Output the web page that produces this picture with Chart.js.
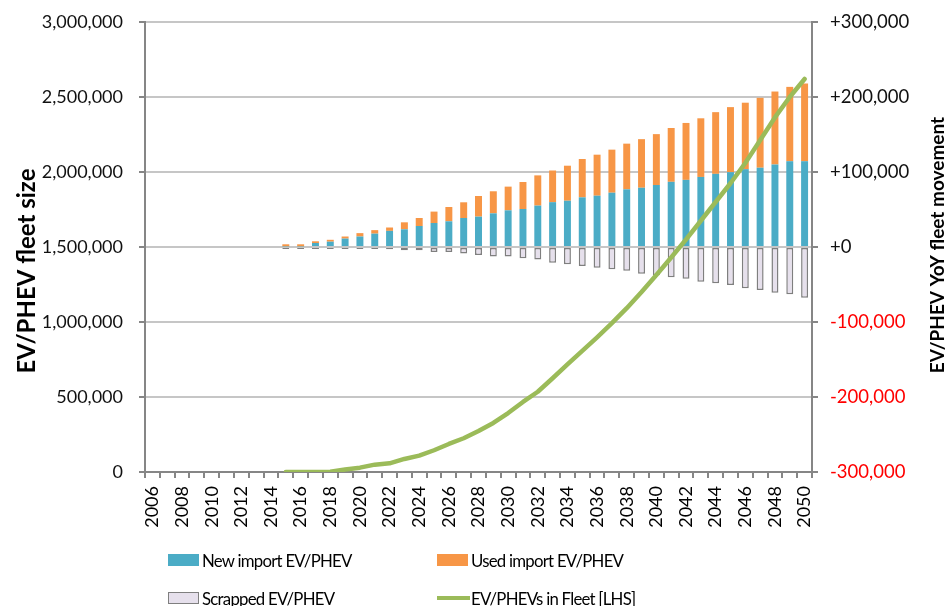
<!DOCTYPE html>
<html><head><meta charset="utf-8">
<script src="https://cdn.jsdelivr.net/npm/chart.js@4/dist/chart.umd.min.js"></script>
<style>
html,body{margin:0;padding:0;background:#fff;overflow:hidden}
#wrap{position:relative;width:946px;height:606px}
canvas{position:absolute;left:0;top:0}
.lg{position:absolute;font-family:Lato,sans-serif;font-size:16.8px;letter-spacing:-0.75px;color:#000;white-space:nowrap;line-height:20px}
.sw{position:absolute;box-sizing:border-box}
</style></head><body>
<div id="wrap"><canvas id="c" width="946" height="606"></canvas><div id="legend"></div></div>
<script>
const years = ['2006','2007','2008','2009','2010','2011','2012','2013','2014','2015','2016','2017','2018','2019','2020','2021','2022','2023','2024','2025','2026','2027','2028','2029','2030','2031','2032','2033','2034','2035','2036','2037','2038','2039','2040','2041','2042','2043','2044','2045','2046','2047','2048','2049','2050'];
const newImport = [null,null,null,null,null,null,null,null,null,800,800,5300,7100,11200,14000,17800,21500,23600,28000,32000,34300,38700,40500,44900,48900,50700,55200,59800,61700,66200,68400,72400,76900,79000,82700,86900,89500,93400,97500,99800,103800,105700,110000,114400,114400];
const usedImport = [null,null,null,null,null,null,null,null,null,2800,2800,2300,2500,2800,4500,4700,4500,9300,10700,15200,19000,20900,27500,29400,31600,36000,40300,42200,46700,51100,54700,57400,60900,64800,67800,71800,75900,78200,82300,86700,88600,93200,97300,99100,103600];
const scrapped = [null,null,null,null,null,null,null,null,null,-2500,-2500,-2500,-2500,-2500,-2500,-2500,-3000,-4400,-4400,-6500,-6500,-8700,-10800,-12500,-12500,-15100,-16800,-21000,-23100,-25300,-27600,-29800,-31600,-35600,-37800,-40400,-42200,-46200,-48400,-50700,-55100,-57300,-60900,-63100,-67600];
const fleet = [null,null,null,null,null,null,null,null,null,0,0,0,2000,16000,29000,49000,58000,87000,109000,145000,187000,225000,273000,327000,393000,467000,535000,625000,718000,808000,898000,992000,1092000,1200000,1313000,1430000,1550000,1675000,1800000,1925000,2060000,2212000,2364000,2500000,2620000];
const leftTicks = [0,500000,1000000,1500000,2000000,2500000,3000000];
const rightTicks = [-300000,-200000,-100000,0,100000,200000,300000];
const leftTitle = 'EV/PHEV fleet size';
const rightTitle = 'EV/PHEV YoY fleet movement';

const FONT = 'Lato';
const titlesPlugin = {
  id:'titles',
  afterDraw(chart){
    const c = chart.ctx;
    c.save();
    c.font = 'bold 24px ' + FONT;
    c.fillStyle = '#000';
    c.textAlign = 'center';
    c.textBaseline = 'middle';
    c.translate(27, 271); c.rotate(-Math.PI/2); c.fillText(leftTitle, 0, 0);
    c.restore();
    c.save();
    c.font = 'bold 19px ' + FONT;
    c.fillStyle = '#000';
    c.textAlign = 'center';
    c.textBaseline = 'middle';
    c.translate(938, 245); c.rotate(-Math.PI/2); c.fillText(rightTitle, 0, 0);
    c.restore();
  }
};

const axisGray = '#868686';
const noVPad = s => { s.paddingTop = 0; s.paddingBottom = 0; };
const chart = new Chart(document.getElementById('c'), {
  type:'bar',
  data:{labels:years, datasets:[
    {type:'line', label:'EV/PHEVs in Fleet [LHS]', data:fleet, yAxisID:'y', borderColor:'#9BBB59', backgroundColor:'#9BBB59', borderWidth:4.5, pointRadius:0, tension:0, order:0, borderCapStyle:'round', borderJoinStyle:'round'},
    {label:'New import EV/PHEV', data:newImport, yAxisID:'y2', backgroundColor:'#4BACC6', stack:'s', order:1, barPercentage:0.47, categoryPercentage:1},
    {label:'Used import EV/PHEV', data:usedImport, yAxisID:'y2', backgroundColor:'#F79646', stack:'s', order:1, barPercentage:0.47, categoryPercentage:1},
    {label:'Scrapped EV/PHEV', data:scrapped, yAxisID:'y2', backgroundColor:'#E6E0EC', borderColor:'#7F7F7F', borderWidth:1.5, borderSkipped:false, stack:'s', order:1, barPercentage:0.47, categoryPercentage:1}
  ]},
  options:{
    responsive:false, animation:false,
    layout:{padding:{top:22,left:0,right:0,bottom:0}},
    plugins:{legend:{display:false}, tooltip:{enabled:false}},
    scales:{
      x:{stacked:true, offset:true,
        grid:{offset:true, drawOnChartArea:false, drawTicks:true, tickLength:6, color:axisGray, lineWidth:2},
        border:{color:axisGray, width:2},
        ticks:{autoSkip:false, maxRotation:90, minRotation:90, padding:8, color:'#000', font:{family:FONT, size:18},
          callback:(v,i)=> i%2===0 ? years[i] : ''},
        afterFit:s=>{s.height=134;}},
      y:{position:'left', min:0, max:3000000,
        afterBuildTicks:s=>{s.ticks = leftTicks.map(v=>({value:v}));},
        grid:{color:'#c6c6c6', lineWidth:2, tickLength:6, tickColor:axisGray},
        border:{color:axisGray, width:2},
        ticks:{padding:16, color:'#111', font:{family:FONT, size:18}, callback:v=>Number(v).toLocaleString('en-US')},
        afterFit:s=>{s.width=145; noVPad(s);}},
      y2:{position:'right', stacked:true, min:-300000, max:300000,
        afterBuildTicks:s=>{s.ticks = rightTicks.map(v=>({value:v}));},
        grid:{drawOnChartArea:false, tickLength:6, color:axisGray, lineWidth:2},
        border:{color:axisGray, width:2},
        ticks:{padding:12, font:{family:FONT, size:18.5}, color:ctx=> (ctx.tick && ctx.tick.value<0) ? '#FF0000' : '#111',
          callback:v=> (v>=0?'+':'') + Number(v).toLocaleString('en-US')},
        afterFit:s=>{s.width=134; noVPad(s);}}
    }
  },
  plugins:[titlesPlugin]
});

// HTML legend built from the chart's datasets
const legendPos = [
  {ds:1, x:168, y:551, kind:'box'},
  {ds:2, x:437, y:551, kind:'box'},
  {ds:3, x:168, y:589, kind:'box'},
  {ds:0, x:437, y:589, kind:'line'}
];
const lg = document.getElementById('legend');
legendPos.forEach(p=>{
  const d = chart.data.datasets[p.ds];
  const sw = document.createElement('div');
  sw.className = 'sw';
  if (p.kind==='box'){
    sw.style.left = p.x+'px'; sw.style.top = (p.y+3)+'px'; sw.style.width='31px'; sw.style.height='12px';
    sw.style.background = d.backgroundColor;
    if (d.borderColor) sw.style.border = '1.5px solid '+d.borderColor;
  } else {
    sw.style.left = p.x+'px'; sw.style.top = (p.y+7)+'px'; sw.style.width='33px'; sw.style.height='4px';
    sw.style.background = d.borderColor;
  }
  lg.appendChild(sw);
  const t = document.createElement('div');
  t.className = 'lg';
  t.style.left = (p.x+34)+'px'; t.style.top = (p.y)+'px';
  t.textContent = d.label;
  lg.appendChild(t);
});
</script>
</body></html>
